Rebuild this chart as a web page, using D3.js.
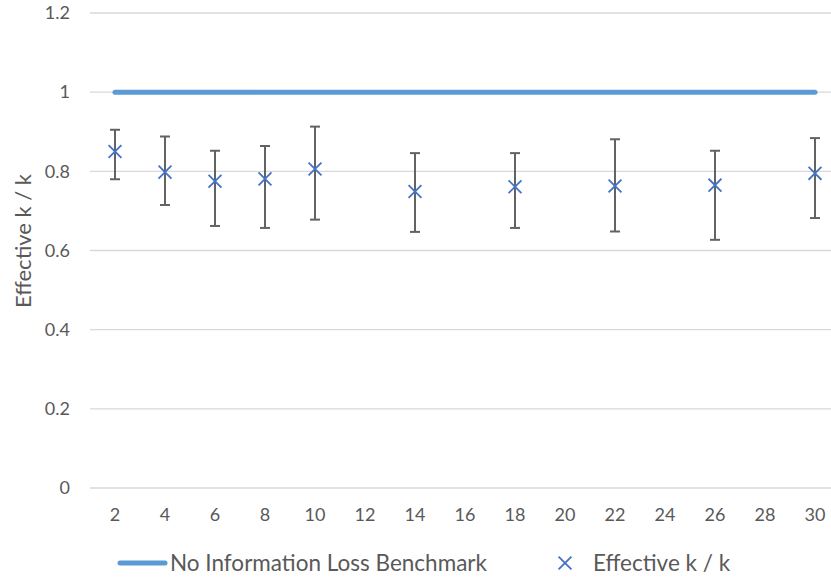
<!DOCTYPE html>
<html>
<head>
<meta charset="utf-8">
<script src="https://cdn.jsdelivr.net/npm/d3@7"></script>
<style>
  body { margin: 0; background: #fff; }
  svg text { font-family: "Lato", "Open Sans", sans-serif; fill: #595959; }
</style>
</head>
<body>
<div id="chart"></div>
<script>
// categories on the x axis
const categories = [2, 4, 6, 8, 10, 12, 14, 16, 18, 20, 22, 24, 26, 28, 30];
// benchmark series (one value per category)
const benchmark = [1, 1, 1, 1, 1, 1, 1, 1, 1, 1, 1, 1, 1, 1, 1];
// measured series: k, mean, lower, upper
const pointK = [2, 4, 6, 8, 10, 14, 18, 22, 26, 30];
const pointMean = [0.850, 0.798, 0.775, 0.781, 0.806, 0.749, 0.761, 0.763, 0.765, 0.795];
const pointLow = [0.780, 0.715, 0.662, 0.657, 0.678, 0.647, 0.657, 0.648, 0.627, 0.682];
const pointHigh = [0.905, 0.888, 0.852, 0.864, 0.913, 0.846, 0.846, 0.881, 0.852, 0.884];
const yTicks = [0, 0.2, 0.4, 0.6, 0.8, 1, 1.2];

const width = 831, height = 581;
const margin = { top: 13, right: -9, bottom: 93, left: 90 };

let svg = d3.select("#chart").append("svg")
    .attr("width", width)
    .attr("height", height);

let x = d3.scaleBand()
    .domain(categories)
    .range([margin.left, width - margin.right]);

let y = d3.scaleLinear()
    .domain([0, 1.2])
    .range([height - margin.bottom, margin.top]);

let cx = k => x(k) + x.bandwidth() / 2;

// gridlines
svg.append("g")
    .selectAll("line")
    .data(yTicks)
    .enter()
    .append("line")
    .attr("x1", margin.left)
    .attr("x2", width - margin.right)
    .attr("y1", d => y(d))
    .attr("y2", d => y(d))
    .attr("stroke", "#d9d9d9")
    .attr("stroke-width", 1.3);

// y axis labels
let yAxis = svg.append("g")
    .attr("transform", "translate(" + (margin.left - 20) + ",0)")
    .call(d3.axisLeft(y).tickValues(yTicks).tickSize(0).tickFormat(d3.format("")));
yAxis.select(".domain").remove();
yAxis.selectAll("text")
    .attr("x", 0)
    .style("font-size", "18px")
    .style("fill", "#595959");

// x axis labels
let xAxis = svg.append("g")
    .attr("transform", "translate(0," + (height - margin.bottom + 27) + ")")
    .call(d3.axisBottom(x).tickSize(0));
xAxis.select(".domain").remove();
xAxis.selectAll("text")
    .attr("y", 0)
    .attr("dy", "0.35em")
    .style("font-size", "18px")
    .style("fill", "#595959");

// y axis title
svg.append("text")
    .attr("transform", "translate(23," + 241 + ") rotate(-90)")
    .attr("text-anchor", "middle")
    .attr("dy", "0.35em")
    .style("font-size", "22px")
    .text("Effective k / k");

// benchmark line
let line = d3.line()
    .x((d, i) => cx(categories[i]))
    .y(d => y(d));

svg.append("path")
    .datum(benchmark)
    .attr("d", line)
    .attr("fill", "none")
    .attr("stroke", "#5b9bd5")
    .attr("stroke-width", 5)
    .attr("stroke-linecap", "round");

// error bars
let bars = svg.append("g")
    .selectAll("g")
    .data(pointK)
    .enter()
    .append("g")
    .attr("stroke", "#636363")
    .attr("stroke-width", 2);

bars.append("line")
    .attr("x1", d => cx(d))
    .attr("x2", d => cx(d))
    .attr("y1", (d, i) => y(pointLow[i]))
    .attr("y2", (d, i) => y(pointHigh[i]));

bars.append("line")
    .attr("x1", d => cx(d) - 5)
    .attr("x2", d => cx(d) + 5)
    .attr("y1", (d, i) => y(pointLow[i]))
    .attr("y2", (d, i) => y(pointLow[i]));

bars.append("line")
    .attr("x1", d => cx(d) - 5)
    .attr("x2", d => cx(d) + 5)
    .attr("y1", (d, i) => y(pointHigh[i]))
    .attr("y2", (d, i) => y(pointHigh[i]));

// x markers
let cross = d3.symbol().type(d3.symbolX).size(110);
svg.append("g")
    .selectAll("path")
    .data(pointK)
    .enter()
    .append("path")
    .attr("d", cross)
    .attr("transform", (d, i) => "translate(" + cx(d) + "," + y(pointMean[i]) + ")")
    .attr("stroke", "#4472c4")
    .attr("stroke-width", 1.8)
    .attr("fill", "none");

// legend
let legend = svg.append("g").attr("transform", "translate(0,563)");
legend.append("line")
    .attr("x1", 120).attr("x2", 165)
    .attr("y1", 0).attr("y2", 0)
    .attr("stroke", "#5b9bd5")
    .attr("stroke-width", 5)
    .attr("stroke-linecap", "round");
legend.append("text")
    .attr("x", 170).attr("y", 0).attr("dy", "0.35em")
    .style("font-size", "22.5px")
    .text("No Information Loss Benchmark");
legend.append("path")
    .attr("d", cross)
    .attr("transform", "translate(565,0)")
    .attr("stroke", "#4472c4")
    .attr("stroke-width", 1.8)
    .attr("fill", "none");
legend.append("text")
    .attr("x", 593).attr("y", 0).attr("dy", "0.35em")
    .style("font-size", "22.5px")
    .text("Effective k / k");
</script>
</body>
</html>
